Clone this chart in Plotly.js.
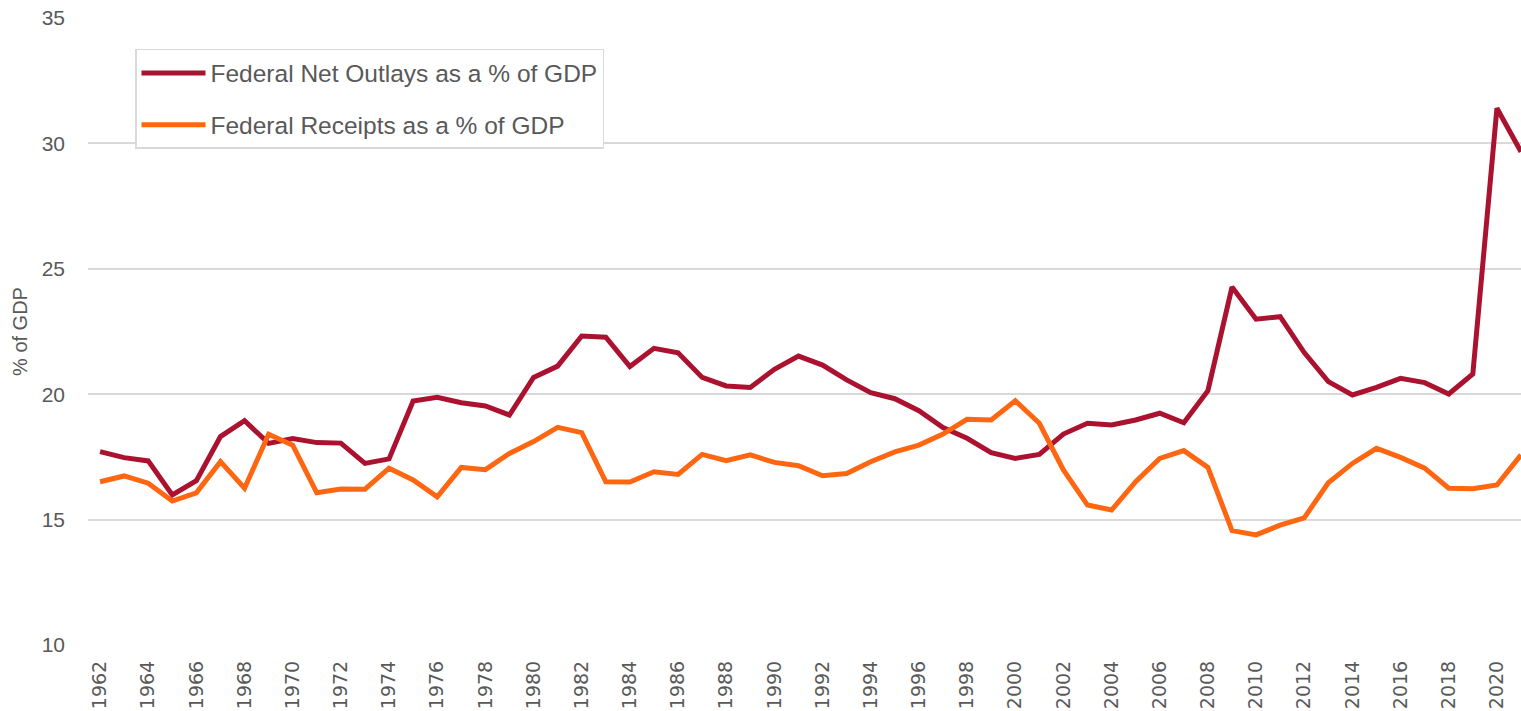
<!DOCTYPE html>
<html>
<head>
<meta charset="utf-8">
<script src="https://cdn.plot.ly/plotly-3.0.1.min.js"></script>
<style>
  html, body { margin: 0; padding: 0; background: #ffffff; }
  #chart { width: 1521px; height: 711px; }
</style>
</head>
<body>
<div id="chart"></div>
<script>
const years = [];
for (let y = 1962; y <= 2021; y++) years.push(y);

const outlaysName = 'Federal Net Outlays as a % of GDP';
const receiptsName = 'Federal Receipts as a % of GDP';

const outlays = [
  17.71, 17.47, 17.34, 15.98, 16.55, 18.31, 18.94, 18.04, 18.23, 18.07,
  18.05, 17.24, 17.42, 19.73, 19.88, 19.66, 19.53, 19.17, 20.67, 21.12,
  22.32, 22.27, 21.10, 21.83, 21.65, 20.67, 20.33, 20.27, 20.99, 21.52,
  21.16, 20.57, 20.06, 19.82, 19.34, 18.67, 18.24, 17.67, 17.44, 17.60,
  18.41, 18.84, 18.77, 18.97, 19.24, 18.86, 20.14, 24.27, 22.99, 23.09,
  21.66, 20.50, 19.97, 20.27, 20.63, 20.46, 20.01, 20.81, 31.40, 29.67
];

const receipts = [
  16.51, 16.74, 16.45, 15.74, 16.07, 17.31, 16.25, 18.40, 17.97, 16.07,
  16.22, 16.21, 17.05, 16.58, 15.91, 17.08, 16.99, 17.64, 18.11, 18.68,
  18.47, 16.51, 16.50, 16.91, 16.80, 17.60, 17.35, 17.58, 17.28, 17.15,
  16.75, 16.84, 17.31, 17.70, 17.97, 18.41, 19.00, 18.97, 19.74, 18.84,
  16.98, 15.58, 15.38, 16.51, 17.44, 17.75, 17.08, 14.56, 14.39, 14.78,
  15.07, 16.47, 17.24, 17.84, 17.48, 17.05, 16.25, 16.23, 16.38, 17.58
];

const xTickVals = years.filter(y => (y - 1962) % 2 === 0);
const xTickText = xTickVals.map(String);
const yTickVals = [10, 15, 20, 25, 30, 35];
const yAxisTitle = '% of GDP';

const traces = [
  {
    x: years, y: outlays, name: outlaysName, type: 'scatter', mode: 'lines',
    line: { color: '#AA1230', width: 5, shape: 'linear' },
    legendgroup: 'a', hoverinfo: 'x+y'
  },
  {
    x: years, y: receipts, name: receiptsName, type: 'scatter', mode: 'lines',
    line: { color: '#FF6612', width: 5, shape: 'linear' },
    legendgroup: 'b', hoverinfo: 'x+y'
  }
];

const layout = {
  width: 1521, height: 711,
  margin: { l: 88, r: 0, t: 18, b: 66, pad: 0 },
  paper_bgcolor: '#ffffff', plot_bgcolor: '#ffffff',
  font: { family: 'Liberation Sans, Arial, sans-serif', color: '#595959' },
  showlegend: true,
  legend: {
    x: 0.0328, y: 0.9506, xanchor: 'left', yanchor: 'top',
    bordercolor: '#d9d9d9', borderwidth: 1.5, bgcolor: '#ffffff',
    font: { family: 'Liberation Sans, Arial, sans-serif', size: 24.5, color: '#595959' },
    traceorder: 'grouped', tracegroupgap: 17,
    itemwidth: 64
  },
  xaxis: {
    type: 'linear',
    range: [1961.5, 2021],
    tickmode: 'array', tickvals: xTickVals, ticktext: xTickText,
    tickangle: -90,
    tickfont: { family: 'DejaVu Sans, sans-serif', size: 19, color: '#595959' },
    ticklabelstandoff: 11,
    showgrid: false, zeroline: false, showline: false, ticks: '',
    fixedrange: true
  },
  yaxis: {
    range: [10, 35],
    tickmode: 'array', tickvals: yTickVals,
    tickfont: { family: 'Liberation Sans, Arial, sans-serif', size: 21, color: '#595959' },
    ticklabelstandoff: 22,
    showgrid: true, gridcolor: '#d9d9d9', gridwidth: 1.5,
    zeroline: false, showline: false, ticks: '',
    title: { text: yAxisTitle, font: { family: 'Liberation Sans, Arial, sans-serif', size: 20, color: '#595959' }, standoff: 8 },
    fixedrange: true
  }
};

Plotly.newPlot('chart', traces, layout, { displayModeBar: false, staticPlot: false });
</script>
</body>
</html>
